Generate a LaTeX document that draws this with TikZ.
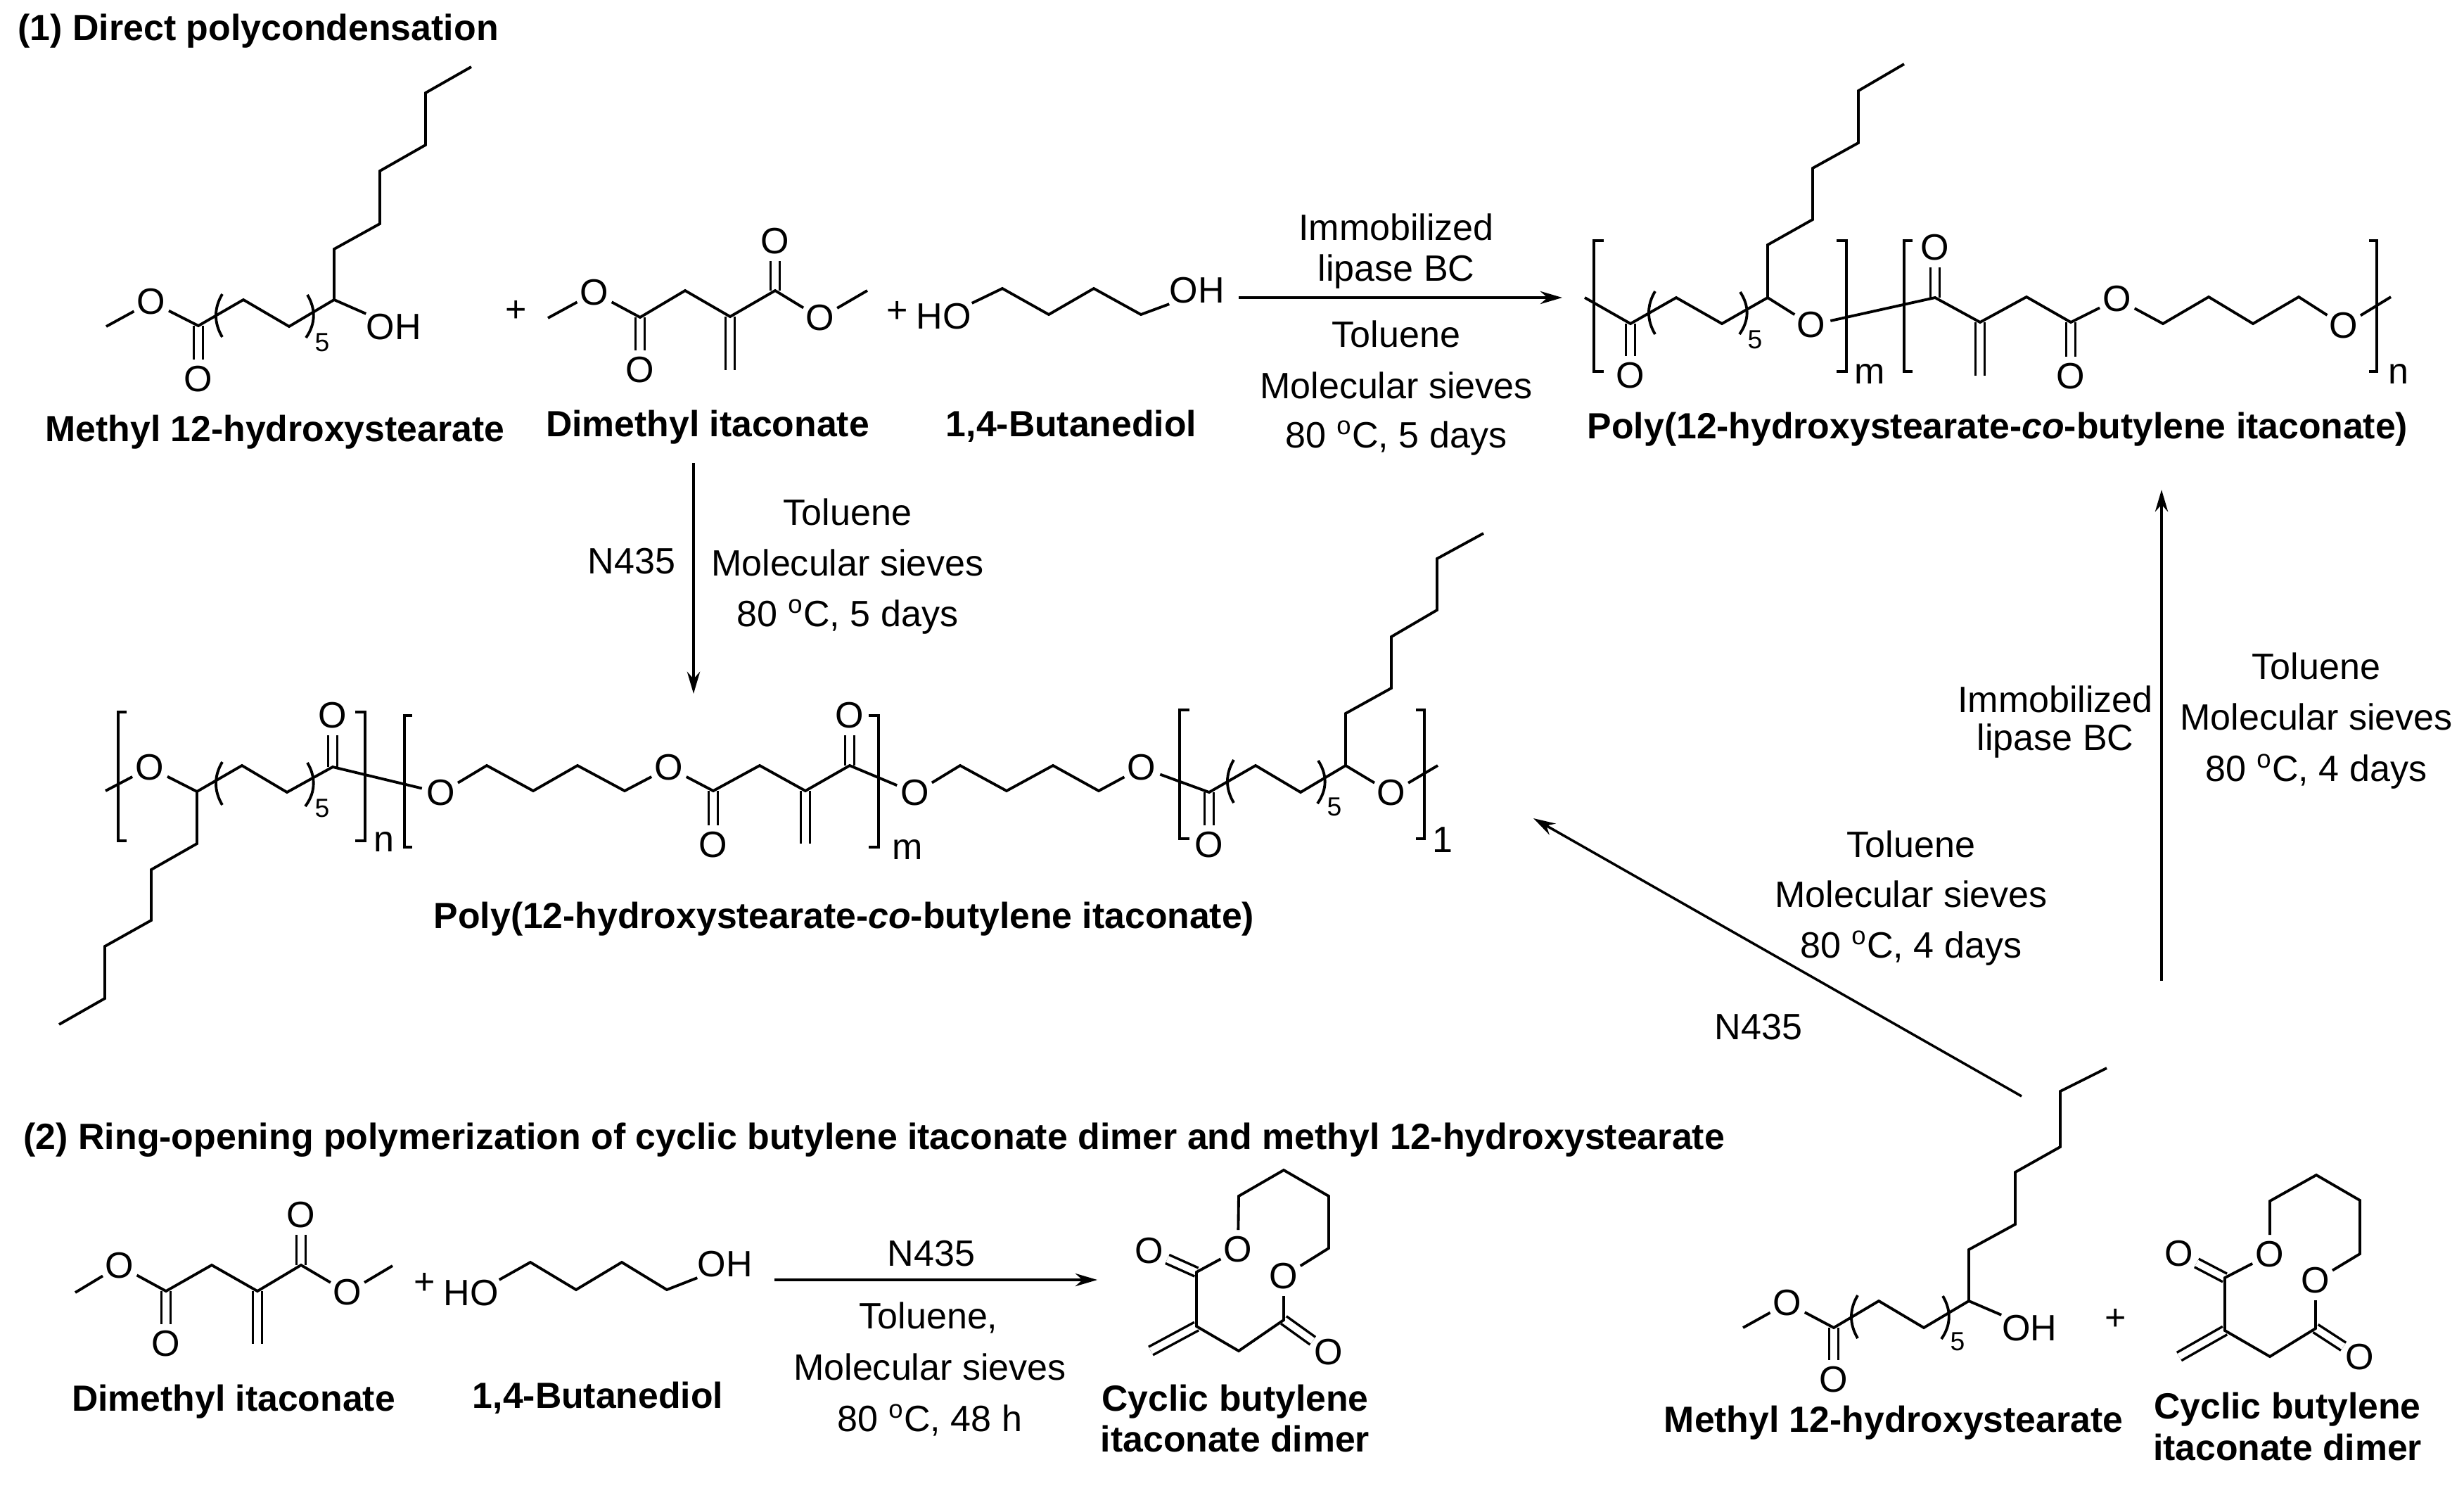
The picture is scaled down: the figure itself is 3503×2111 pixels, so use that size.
\documentclass[tikz,border=0pt]{standalone}
\usepackage{fontspec}
\setmainfont{Liberation Sans}
\usetikzlibrary{arrows.meta}
\tikzset{
  bond/.style={line width=1.1pt, line join=miter},
  dbl/.style={line width=1pt, double, double distance=2.7pt},
  rxn/.style={line width=1pt, -{Stealth[length=8.9pt,width=5.2pt]}},
  atom/.style={circle, inner sep=0pt, font=\fontsize{14.8}{17}\selectfont},
  hydroxyl/.style={rectangle, inner sep=0pt, font=\fontsize{14.8}{17}\selectfont},
  cond/.style={anchor=base, inner sep=0pt, font=\fontsize{14.8}{17}\selectfont},
  cname/.style={anchor=base, inner sep=0pt, font=\fontsize{14.7}{17}\selectfont\bfseries},
  heading/.style={anchor=base west, inner sep=0pt, font=\fontsize{14.75}{17}\selectfont\bfseries},
  repeats/.style={inner sep=0pt, font=\fontsize{10.6}{12}\selectfont}
}
\begin{document}
\begin{tikzpicture}[x=0.01cm, y=-0.01cm]
  \useasboundingbox (0,0) rectangle (3503,2111);

  \node[heading] (titleA) at (25,57) {(1) Direct polycondensation};
  \node[heading] (titleB) at (33,1633) {(2) Ring-opening polymerization of cyclic butylene itaconate dimer and methyl 12-hydroxystearate};

  \node[atom] (mhsOa) at (215,429) {O};
  \node[atom] (mhsOb) at (282,539) {O};
  \node[hydroxyl] (mhsOH) at (560,465) {OH};
  \node[repeats] (mhsFive) at (458,487) {5};
  \draw[dbl] (282,463) -- (mhsOb);
  \draw[bond] (151,464) -- (mhsOa) -- (282,463) -- (346,426) -- (411,464) -- (475,426) -- (475,354) -- (540,318) -- (540,243) -- (605,206) -- (605,132) -- (670,95);
  \draw[bond] (475,426) -- (mhsOH.north west);
  \draw[bond] (316,418) .. controls (304,438) and (304,459) .. (316,479);
  \draw[bond] (437,419) .. controls (449,439) and (449,460) .. (435,480);
  \node[cname] (mhsName) at (391,627) {Methyl 12-hydroxystearate};

  \node[cond] (plusA) at (734,457) {+};
  \node[atom] (dmiOa) at (845,416) {O};
  \node[atom] (dmiOb) at (910,526) {O};
  \node[atom] (dmiOc) at (1102,343) {O};
  \node[atom] (dmiOd) at (1166,452) {O};
  \draw[dbl] (910,451) -- (dmiOb);
  \draw[dbl] (1038,450) -- (1038,526);
  \draw[dbl] (1102,413) -- (dmiOc);
  \draw[bond] (779,452) -- (dmiOa) -- (910,451) -- (974,413) -- (1038,450) -- (1102,413) -- (dmiOd) -- (1233,413);
  \node[cname] (dmiName) at (1006,620) {Dimethyl itaconate};

  \node[cond] (plusB) at (1276,458) {+};
  \node[hydroxyl] (bdoHO) at (1342,450) {HO};
  \node[hydroxyl] (bdoOH) at (1702,413) {OH};
  \draw[bond] (bdoHO.north east) -- (1425,410) -- (1491,447) -- (1555,410) -- (1622,447) -- (bdoOH.south west);
  \node[cname] (bdoName) at (1523,620) {1,4-Butanediol};

  \coordinate (arrAs) at (1761,423);
  \coordinate (arrAe) at (2221,423);
  \draw[rxn] (arrAs) -- (arrAe);
  \node[cond] (arrAa) at (1985,341) {Immobilized};
  \node[cond] (arrAb) at (1985,399) {lipase BC};
  \node[cond] (arrAc) at (1985,493) {Toluene};
  \node[cond] (arrAd) at (1985,566) {Molecular sieves};
  \node[cond] (arrAf) at (1985,636) {80 \textsuperscript{o}C, 5 days};

  \node[atom] (polyOa) at (2318,534) {O};
  \node[atom] (polyOb) at (2575,462) {O};
  \node[atom] (polyOc) at (2751,352) {O};
  \node[atom] (polyOd) at (2944,535) {O};
  \node[atom] (polyOe) at (3010,425) {O};
  \node[atom] (polyOf) at (3332,463) {O};
  \node[repeats] (polyFive) at (2495,483) {5};
  \draw[dbl] (2318,460) -- (polyOa);
  \draw[dbl] (2751,423) -- (polyOc);
  \draw[dbl] (2815,458) -- (2815,534);
  \draw[dbl] (2944,458) -- (polyOd);
  \draw[bond] (2253,423) -- (2318,460) -- (2383,423) -- (2448,460) -- (2513,423) -- (2513,348) -- (2577,312) -- (2577,239) -- (2642,203) -- (2642,129) -- (2707,91);
  \draw[bond] (2513,423) -- (polyOb) -- (2751,423) -- (2815,458) -- (2881,422) -- (2944,458) -- (polyOe) -- (3075,460) -- (3140,422) -- (3203,460) -- (3268,422) -- (polyOf) -- (3399,422);
  \draw[bond] (2353,414) .. controls (2341,434) and (2341,455) .. (2353,475);
  \draw[bond] (2474,415) .. controls (2487,435) and (2487,455) .. (2473,475);
  \draw[bond] (2280,342) -- (2266,342) -- (2266,528) -- (2280,528);
  \draw[bond] (2611,342) -- (2625,342) -- (2625,528) -- (2611,528);
  \draw[bond] (2719,342) -- (2707,342) -- (2707,528) -- (2719,528);
  \draw[bond] (3368,342) -- (3379,342) -- (3379,528) -- (3368,528);
  \node[cond] (polyM) at (2658,545) {m};
  \node[cond] (polyN) at (3410,545) {n};
  \node[cname] (polyName) at (2840,623) {Poly(12-hydroxystearate-\textit{co}-butylene itaconate)};

  \coordinate (arrBs) at (986,658);
  \coordinate (arrBe) at (986,986);
  \draw[rxn] (arrBs) -- (arrBe);
  \node[cond] (arrBa) at (898,815) {N435};
  \node[cond] (arrBb) at (1205,746) {Toluene};
  \node[cond] (arrBc) at (1205,818) {Molecular sieves};
  \node[cond] (arrBd) at (1205,890) {80 \textsuperscript{o}C, 5 days};

  \node[atom] (lowOa) at (213,1091) {O};
  \node[atom] (lowOb) at (473,1017) {O};
  \node[atom] (lowOc) at (627,1127) {O};
  \node[atom] (lowOd) at (951,1091) {O};
  \node[atom] (lowOe) at (1014,1201) {O};
  \node[atom] (lowOf) at (1208,1017) {O};
  \node[atom] (lowOg) at (1301,1127) {O};
  \node[atom] (lowOh) at (1623,1091) {O};
  \node[atom] (lowOi) at (1719,1201) {O};
  \node[atom] (lowOj) at (1978,1127) {O};
  \node[repeats] (lowFiveA) at (458,1149) {5};
  \node[repeats] (lowFiveB) at (1897,1147) {5};
  \draw[dbl] (473,1090) -- (lowOb);
  \draw[dbl] (1014,1124) -- (lowOe);
  \draw[dbl] (1145,1124) -- (1145,1199);
  \draw[dbl] (1208,1088) -- (lowOf);
  \draw[dbl] (1719,1126) -- (lowOi);
  \draw[bond] (150,1124) -- (lowOa) -- (280,1125) -- (344,1088) -- (408,1126) -- (473,1090) -- (lowOc) -- (692,1088) -- (758,1124) -- (821,1088) -- (888,1124) -- (lowOd) -- (1014,1124) -- (1080,1088) -- (1145,1124) -- (1208,1088) -- (lowOg) -- (1365,1088) -- (1431,1124) -- (1497,1088) -- (1562,1124) -- (lowOh) -- (1719,1126) -- (1785,1088) -- (1849,1126) -- (1913,1088) -- (lowOj) -- (2044,1088);
  \draw[bond] (280,1125) -- (280,1199) -- (215,1236) -- (215,1308) -- (149,1345) -- (149,1419) -- (84,1456);
  \draw[bond] (1913,1088) -- (1913,1014) -- (1978,978) -- (1978,905) -- (2043,867) -- (2043,794) -- (2109,758);
  \draw[bond] (316,1083) .. controls (304,1103) and (304,1124) .. (316,1144);
  \draw[bond] (437,1084) .. controls (449,1104) and (449,1126) .. (434,1146);
  \draw[bond] (1754,1080) .. controls (1742,1100) and (1742,1121) .. (1754,1141);
  \draw[bond] (1874,1081) .. controls (1887,1101) and (1887,1122) .. (1873,1142);
  \draw[bond] (180,1012) -- (168,1012) -- (168,1195) -- (180,1195);
  \draw[bond] (505,1012) -- (519,1012) -- (519,1195) -- (505,1195);
  \draw[bond] (586,1017) -- (575,1017) -- (575,1204) -- (586,1204);
  \draw[bond] (1235,1017) -- (1249,1017) -- (1249,1204) -- (1235,1204);
  \draw[bond] (1691,1009) -- (1677,1009) -- (1677,1192) -- (1691,1192);
  \draw[bond] (2013,1009) -- (2025,1009) -- (2025,1192) -- (2013,1192);
  \node[cond] (lowN) at (546,1210) {n};
  \node[cond] (lowM) at (1290,1221) {m};
  \node[cond] (lowOne) at (2051,1211) {1};
  \node[cname] (lowName) at (1200,1319) {Poly(12-hydroxystearate-\textit{co}-butylene itaconate)};

  \coordinate (arrCs) at (2874,1558);
  \coordinate (arrCe) at (2180,1163);
  \draw[rxn] (arrCs) -- (arrCe);
  \node[cond] (arrCa) at (2717,1218) {Toluene};
  \node[cond] (arrCb) at (2717,1289) {Molecular sieves};
  \node[cond] (arrCc) at (2717,1361) {80 \textsuperscript{o}C, 4 days};
  \node[cond] (arrCd) at (2500,1477) {N435};

  \coordinate (arrDs) at (3073,1394);
  \coordinate (arrDe) at (3073,696);
  \draw[rxn] (arrDs) -- (arrDe);
  \node[cond] (arrDa) at (2922,1012) {Immobilized};
  \node[cond] (arrDb) at (2922,1066) {lipase BC};
  \node[cond] (arrDc) at (3293,965) {Toluene};
  \node[cond] (arrDd) at (3293,1037) {Molecular sieves};
  \node[cond] (arrDf) at (3293,1110) {80 \textsuperscript{o}C, 4 days};

  \node[atom] (dmisOa) at (170,1799) {O};
  \node[atom] (dmisOb) at (236,1910) {O};
  \node[atom] (dmisOc) at (428,1727) {O};
  \node[atom] (dmisOd) at (494,1837) {O};
  \draw[dbl] (236,1835) -- (dmisOb);
  \draw[dbl] (366,1835) -- (366,1910);
  \draw[dbl] (428,1798) -- (dmisOc);
  \draw[bond] (107,1837) -- (dmisOa) -- (236,1835) -- (301,1798) -- (366,1835) -- (428,1798) -- (dmisOd) -- (558,1799);
  \node[cname] (dmisName) at (332,2005) {Dimethyl itaconate};

  \node[cond] (plusC) at (604,1839) {+};
  \node[hydroxyl] (bdosHO) at (670,1838) {HO};
  \node[hydroxyl] (bdosOH) at (1031,1797) {OH};
  \draw[bond] (bdosHO.north east) -- (754,1794) -- (819,1833) -- (884,1794) -- (948,1833) -- (bdosOH.south west);
  \node[cname] (bdosName) at (850,2001) {1,4-Butanediol};

  \coordinate (arrEs) at (1101,1819);
  \coordinate (arrEe) at (1560,1819);
  \draw[rxn] (arrEs) -- (arrEe);
  \node[cond] (arrEa) at (1324,1799) {N435};
  \node[cond] (arrEb) at (1320,1888) {Toluene,};
  \node[cond] (arrEc) at (1322,1961) {Molecular sieves};
  \node[cond] (arrEd) at (1322,2034) {80 \textsuperscript{o}C, 48 h};

  \node[atom] (cycOa) at (1634,1778) {O};
  \node[atom] (cycOb) at (1760,1776) {O};
  \node[atom] (cycOc) at (1825,1814) {O};
  \node[atom] (cycOd) at (1889,1922) {O};
  \draw[dbl] (1701,1808) -- (cycOa);
  \draw[dbl] (1825,1876) -- (cycOd);
  \draw[dbl] (1701,1885) -- (1636,1920);
  \draw[bond] (cycOb) -- (1701,1808) -- (1701,1885) -- (1761,1920) -- (1825,1876) -- (cycOc) -- (1889,1774) -- (1889,1700) -- (1825,1663) -- (1761,1700) -- (cycOb);
  \node[cname] (cycNameA) at (1756,2005) {Cyclic butylene};
  \node[cname] (cycNameB) at (1756,2063) {itaconate dimer};

  \node[atom] (mhssOa) at (2541,1852) {O};
  \node[atom] (mhssOb) at (2607,1961) {O};
  \node[hydroxyl] (mhssOH) at (2885,1888) {OH};
  \node[repeats] (mhssFive) at (2783,1907) {5};
  \draw[dbl] (2607,1887) -- (mhssOb);
  \draw[bond] (2478,1887) -- (mhssOa) -- (2607,1887) -- (2671,1849) -- (2735,1887) -- (2799,1849) -- (2799,1776) -- (2865,1740) -- (2865,1666) -- (2929,1630) -- (2929,1551) -- (2995,1518);
  \draw[bond] (2799,1849) -- (mhssOH.north west);
  \draw[bond] (2641,1841) .. controls (2629,1861) and (2629,1882) .. (2641,1902);
  \draw[bond] (2762,1842) .. controls (2774,1862) and (2774,1883) .. (2760,1903);
  \node[cname] (mhssName) at (2692,2035) {Methyl 12-hydroxystearate};

  \node[cond] (plusD) at (3008,1890) {+};
  \node[atom] (cycsOa) at (3098,1782) {O};
  \node[atom] (cycsOb) at (3227,1783) {O};
  \node[atom] (cycsOc) at (3292,1820) {O};
  \node[atom] (cycsOd) at (3355,1929) {O};
  \draw[dbl] (3163,1816) -- (cycsOa);
  \draw[dbl] (3292,1888) -- (cycsOd);
  \draw[dbl] (3163,1891) -- (3098,1928);
  \draw[bond] (cycsOb) -- (3163,1816) -- (3163,1891) -- (3227,1928) -- (3292,1888) -- (cycsOc) -- (3355,1782) -- (3355,1706) -- (3293,1670) -- (3227,1707) -- (cycsOb);
  \node[cname] (cycsNameA) at (3252,2016) {Cyclic butylene};
  \node[cname] (cycsNameB) at (3252,2075) {itaconate dimer};
\end{tikzpicture}
\end{document}
